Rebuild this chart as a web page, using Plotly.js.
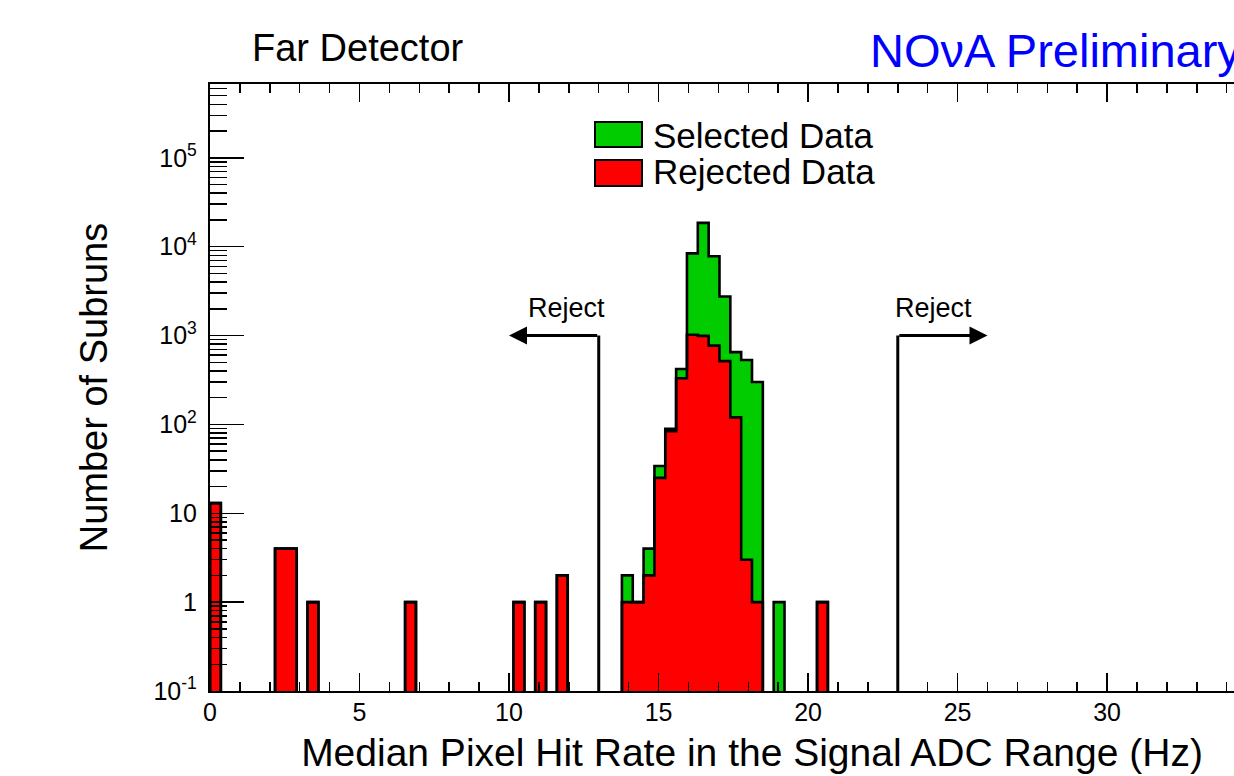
<!DOCTYPE html>
<html><head><meta charset="utf-8">
<script src="https://cdn.plot.ly/plotly-3.0.1.min.js"></script>
<style>html,body{margin:0;padding:0;overflow:hidden;background:#fff;width:1234px;height:776px}</style>
</head><body><div id="chart" style="width:1340px;height:776px"></div>
<script>
// ---- data ----
const binWidth = 0.3625;
const binLowEdges = [0, 2.175, 2.5375, 3.2625, 6.525, 10.15, 10.875, 11.6,
  13.775, 14.1375, 14.5, 14.8625, 15.225, 15.5875, 15.95, 16.3125, 16.675, 17.0375, 17.4, 17.7625, 18.125,
  18.85, 20.3];
const rejectedCounts = [13, 4, 4, 1, 1, 1, 1, 2,
  1, 1, 2, 25, 84, 330, 1020, 990, 770, 515, 120, 3, 1,
  0, 1];
const selectedCounts = [0, 0, 0, 0, 0, 0, 0, 0,
  1, 0, 2, 9, 5, 90, 7380, 17510, 7030, 2235, 530, 527, 299,
  1, 0];
const cutLow = 13, cutHigh = 23, cutArrowLevel = 1000, cutArrowLength = 3;
const xTickVals = [0, 5, 10, 15, 20, 25, 30];
const yTickVals = [0.1, 1, 10, 100, 1000, 10000, 100000];
const yTickText = ['10<sup>-1</sup>', '1', '10', '10<sup>2</sup>', '10<sup>3</sup>', '10<sup>4</sup>', '10<sup>5</sup>'];
const legendLabels = ['Selected Data', 'Rejected Data'];

// ---- derived ----
const FONT = 'Liberation Sans, Arial, Helvetica, sans-serif';
const GREEN = '#00cc00', RED = '#ff0000';
const totalCounts = selectedCounts.map((s, i) => s + rejectedCounts[i]);
const FLOOR = 0.01;

function stepOutline(lows, counts, w) {
  const xs = [], ys = [];
  let prevHigh = null;
  for (let i = 0; i < lows.length; i++) {
    const c = counts[i];
    if (!(c > 0)) continue;
    const lo = lows[i], hi = lo + w;
    if (prevHigh === null || Math.abs(lo - prevHigh) > 1e-6) {
      if (prevHigh !== null) { xs.push(prevHigh); ys.push(FLOOR); xs.push(null); ys.push(null); }
      xs.push(lo); ys.push(FLOOR);
    }
    xs.push(lo); ys.push(c); xs.push(hi); ys.push(c);
    prevHigh = hi;
  }
  xs.push(prevHigh); ys.push(FLOOR);
  return { xs, ys };
}
function nonZero(lows, counts) {
  const x = [], y = [];
  lows.forEach((l, i) => { if (counts[i] > 0) { x.push(l); y.push(counts[i]); } });
  return { x, y };
}

const gBars = nonZero(binLowEdges, totalCounts);
const rBars = nonZero(binLowEdges, rejectedCounts);
const gStep = stepOutline(binLowEdges, totalCounts, binWidth);
const rStep = stepOutline(binLowEdges, rejectedCounts, binWidth);

const minorY = [];
for (let d = -1; d <= 5; d++) for (let m = 2; m <= 9; m++) minorY.push(m * Math.pow(10, d));
const minorX = [];
for (let v = 0; v <= 36; v++) if (v % 5 !== 0) minorX.push(v);

const traces = [
  { type: 'bar', name: legendLabels[0], x: gBars.x, y: gBars.y, width: binWidth, offset: 0,
    marker: { color: GREEN, line: { color: GREEN, width: 1 } }, showlegend: false, hoverinfo: 'skip' },
  { type: 'bar', name: legendLabels[1], x: rBars.x, y: rBars.y, width: binWidth, offset: 0,
    marker: { color: RED, line: { color: RED, width: 1 } }, showlegend: false, hoverinfo: 'skip' },
  { type: 'scatter', mode: 'lines', x: gStep.xs, y: gStep.ys, line: { color: '#000', width: 2.6 },
    connectgaps: false, showlegend: false, hoverinfo: 'skip' },
  { type: 'scatter', mode: 'lines', x: rStep.xs, y: rStep.ys, line: { color: '#000', width: 2.6 },
    connectgaps: false, showlegend: false, hoverinfo: 'skip' },
  { type: 'scatter', mode: 'lines', x: [cutLow, cutLow], y: [FLOOR, cutArrowLevel], line: { color: '#000', width: 3 },
    showlegend: false, hoverinfo: 'skip' },
  { type: 'scatter', mode: 'lines', x: [cutHigh, cutHigh], y: [FLOOR, cutArrowLevel], line: { color: '#000', width: 3 },
    showlegend: false, hoverinfo: 'skip' }
];

const L = 210, PW = 1084, B = 691, PH = 607;
const px = x => (x - L) / PW;
const py = y => (B - y) / PH;

const lvl = Math.log10(cutArrowLevel);
const annotations = [
  { text: 'Far Detector', xref: 'paper', yref: 'paper', x: px(250), y: py(48), xanchor: 'left', yanchor: 'middle',
    showarrow: false, font: { family: FONT, size: 38, color: '#000' } },
  { text: 'NO\u03bdA Preliminary', xref: 'paper', yref: 'paper', x: px(868), y: py(50), xanchor: 'left', yanchor: 'middle',
    showarrow: false, font: { family: FONT, size: 47, color: '#0000ff' } },
  { text: legendLabels[0], xref: 'paper', yref: 'paper', x: px(651), y: py(135), xanchor: 'left', yanchor: 'middle',
    showarrow: false, font: { family: FONT, size: 35, color: '#000' } },
  { text: legendLabels[1], xref: 'paper', yref: 'paper', x: px(651), y: py(172), xanchor: 'left', yanchor: 'middle',
    showarrow: false, font: { family: FONT, size: 35, color: '#000' } },
  { text: 'Reject', xref: 'paper', yref: 'paper', x: px(566), y: py(308), xanchor: 'center', yanchor: 'middle',
    showarrow: false, font: { family: FONT, size: 27, color: '#000' } },
  { text: 'Reject', xref: 'paper', yref: 'paper', x: px(934), y: py(308), xanchor: 'center', yanchor: 'middle',
    showarrow: false, font: { family: FONT, size: 27, color: '#000' } },
  { text: '', xref: 'x', yref: 'y', axref: 'x', ayref: 'y', x: cutLow - cutArrowLength, y: lvl, ax: cutLow, ay: lvl,
    showarrow: true, arrowhead: 2, arrowsize: 1.2, arrowwidth: 3, arrowcolor: '#000', standoff: 0, startstandoff: 0 },
  { text: '', xref: 'x', yref: 'y', axref: 'x', ayref: 'y', x: cutHigh + cutArrowLength, y: lvl, ax: cutHigh, ay: lvl,
    showarrow: true, arrowhead: 2, arrowsize: 1.2, arrowwidth: 3, arrowcolor: '#000', standoff: 0, startstandoff: 0 }
];

const shapes = [
  { type: 'rect', xref: 'paper', yref: 'paper', x0: px(595), x1: px(642), y0: py(147), y1: py(122),
    fillcolor: GREEN, line: { color: '#000', width: 2 } },
  { type: 'rect', xref: 'paper', yref: 'paper', x0: px(595), x1: px(642), y0: py(186), y1: py(160),
    fillcolor: RED, line: { color: '#000', width: 2 } }
];

const layout = {
  width: 1340, height: 776,
  margin: { l: L, r: 1340 - L - PW, t: B - PH, b: 776 - B, pad: 0 },
  paper_bgcolor: '#fff', plot_bgcolor: '#fff',
  barmode: 'overlay', bargap: 0,
  showlegend: false,
  font: { family: FONT, color: '#000' },
  xaxis: {
    range: [0, 36.25], tickmode: 'array', tickvals: xTickVals, ticks: 'inside', ticklen: 18, tickwidth: 1.5, tickcolor: '#000',
    showline: true, linewidth: 2.2, linecolor: '#000', mirror: 'ticks', showgrid: false, zeroline: false,
    tickfont: { family: FONT, size: 25, color: '#000' }, ticklabelstandoff: -2,
    minor: { tickmode: 'array', tickvals: minorX, ticks: 'inside', ticklen: 9, tickwidth: 1.5, tickcolor: '#000', showgrid: false },
    title: { text: 'Median Pixel Hit Rate in the Signal ADC Range (Hz)', font: { family: FONT, size: 39, color: '#000' }, standoff: 14 }
  },
  yaxis: {
    type: 'log', range: [-1, 5.83], tickmode: 'array', tickvals: yTickVals, ticktext: yTickText,
    ticks: 'inside', ticklen: 34, tickwidth: 1.5, tickcolor: '#000',
    showline: true, linewidth: 2.2, linecolor: '#000', mirror: 'ticks', showgrid: false, zeroline: false,
    tickfont: { family: FONT, size: 25, color: '#000' }, ticklabelstandoff: 6,
    minor: { tickmode: 'array', tickvals: minorY, ticks: 'inside', ticklen: 17, tickwidth: 1.5, tickcolor: '#000', showgrid: false },
    title: { text: 'Number of Subruns', font: { family: FONT, size: 38, color: '#000' }, standoff: 34 }
  },
  annotations, shapes
};

Plotly.newPlot('chart', traces, layout, { staticPlot: true, displayModeBar: false });
</script>
</body></html>
